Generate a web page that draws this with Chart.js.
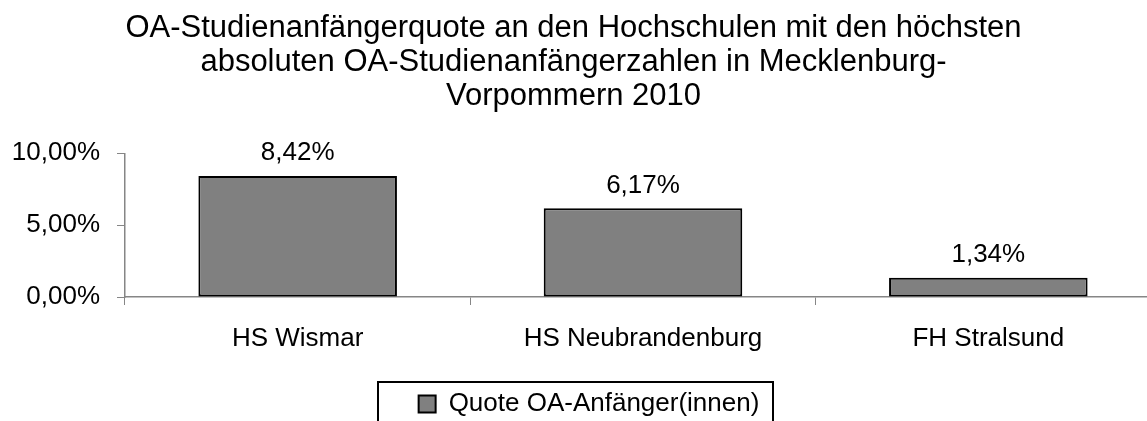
<!DOCTYPE html>
<html lang="de">
<head>
  <meta charset="UTF-8">
  <title>OA-Studienanfängerquote</title>
  <script src="https://cdn.jsdelivr.net/npm/chart.js"></script>
  <style>
    html, body { margin: 0; padding: 0; background: #fff; overflow: hidden; }
    /* slightly taller than the window: the legend frame is cut at the bottom */
    #wrap { width: 1147px; height: 427px; }
  </style>
</head>
<body>
<div id="wrap"><canvas id="quoteChart"></canvas></div>
<script>
  const categories = ['HS Wismar', 'HS Neubrandenburg', 'FH Stralsund'];
  const quoteValues = [8.42, 6.17, 1.34];
  const yTicks = [0, 5, 10];
  const seriesName = 'Quote OA-Anfänger(innen)';
  const titleLines = [
    'OA-Studienanfängerquote an den Hochschulen mit den höchsten',
    'absoluten OA-Studienanfängerzahlen in Mecklenburg-',
    'Vorpommern 2010'
  ];

  const FONT = '"Liberation Sans", Arial, sans-serif';
  const fmt = v => v.toFixed(2).replace('.', ',') + '%';

  // the original plot runs past the right edge of the picture,
  // and its legend entry sits a bit right of centre
  const layoutTweaks = {
    id: 'layoutTweaks',
    afterLayout(chart) {
      const x = chart.scales.x;
      x.right += 14;
      x.width += 14;
      x.configure();
      chart.legend.left += 31;
    }
  };

  const valueLabels = {
    id: 'valueLabels',
    afterDatasetsDraw(chart) {
      const ctx = chart.ctx;
      const meta = chart.getDatasetMeta(0);
      ctx.save();
      ctx.font = '26px ' + FONT;
      ctx.fillStyle = '#000';
      ctx.textAlign = 'center';
      ctx.textBaseline = 'middle';
      meta.data.forEach((bar, i) => {
        ctx.fillText(fmt(quoteValues[i]), bar.x, bar.y - 23);
      });
      ctx.restore();
    }
  };

  const legendBox = {
    id: 'legendBox',
    afterDraw(chart) {
      const lg = chart.legend;
      const ctx = chart.ctx;
      ctx.save();
      ctx.strokeStyle = '#000';
      ctx.lineWidth = 2;
      ctx.strokeRect(378, lg.top - 4, 395, 60);
      ctx.restore();
    }
  };

  new Chart(document.getElementById('quoteChart'), {
    type: 'bar',
    data: {
      labels: categories,
      datasets: [{
        label: seriesName,
        data: quoteValues,
        backgroundColor: '#808080',
        borderColor: '#000',
        borderWidth: 2,
        borderSkipped: false,
        barPercentage: 1,
        categoryPercentage: 0.575
      }]
    },
    plugins: [layoutTweaks, valueLabels, legendBox],
    options: {
      responsive: true,
      maintainAspectRatio: false,
      animation: false,
      layout: { padding: { top: 11, left: 0, right: 0, bottom: 0 } },
      plugins: {
        title: {
          display: true,
          text: titleLines,
          color: '#000',
          font: { family: FONT, size: 31, weight: 'normal', lineHeight: 1.1 },
          padding: { top: 0, bottom: 40 }
        },
        legend: {
          position: 'bottom',
          labels: {
            color: '#000',
            font: { family: FONT, size: 26 },
            boxWidth: 17,
            boxHeight: 17,
            padding: 5,
            generateLabels: () => [{
              text: seriesName,
              fillStyle: '#808080',
              strokeStyle: '#000',
              lineWidth: 2,
              datasetIndex: 0
            }]
          }
        },
        tooltip: { enabled: false }
      },
      scales: {
        x: {
          grid: {
            display: true,
            drawOnChartArea: false,
            offset: true,
            tickLength: 8,
            color: '#868686'
          },
          border: { color: '#868686', width: 1.5 },
          ticks: {
            color: '#000',
            font: { family: FONT, size: 26 },
            padding: 18,
            maxRotation: 0
          },
          afterFit: s => { s.height = 89; }
        },
        y: {
          min: 0,
          max: 10,
          afterBuildTicks: s => { s.ticks = yTicks.map(v => ({ value: v })); },
          grid: {
            display: true,
            drawOnChartArea: false,
            tickLength: 8,
            color: '#868686'
          },
          border: { color: '#868686', width: 1.5 },
          ticks: {
            color: '#000',
            font: { family: FONT, size: 26 },
            padding: 17,
            callback: v => fmt(v)
          },
          afterFit: s => { s.width = 125; }
        }
      }
    }
  });
</script>
</body>
</html>
